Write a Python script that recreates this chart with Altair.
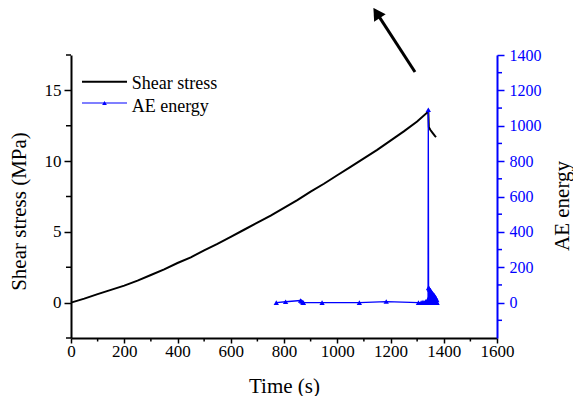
import altair as alt
import pandas as pd

# ---- data ----
time_stress = [0, 50, 100, 150, 200, 250, 300, 350, 400, 450, 500, 550, 600, 650, 700,
               750, 800, 850, 900, 950, 1000, 1050, 1100, 1150, 1200, 1250, 1300, 1342,
               1344, 1350, 1358, 1366, 1371]
shear_stress = [0.0, 0.28, 0.6, 0.9, 1.2, 1.55, 1.95, 2.35, 2.8, 3.2, 3.7, 4.15, 4.65, 5.15, 5.65,
                6.15, 6.7, 7.25, 7.85, 8.4, 9.0, 9.6, 10.2, 10.8, 11.45, 12.1, 12.8, 13.5,
                12.4, 12.2, 12.0, 11.8, 11.7]

time_ae = [771, 806, 862, 866, 870, 873, 943, 1083, 1184, 1305, 1315, 1322, 1328, 1333, 1338,
           1341, 1342, 1343, 1344, 1345, 1346, 1347, 1348, 1350, 1351, 1353, 1354, 1356, 1357,
           1359, 1360, 1362, 1363, 1365, 1366, 1368, 1369, 1371, 1372, 1374, 1375]
ae_energy = [0, 5, 12, 8, 3, 0, 0, 0, 6, 0, 0, 3, 0, 8, 0,
             20, 1090, 85, 10, 80, 5, 75, 15, 70, 0, 60, 20, 55, 5,
             50, 10, 45, 0, 40, 15, 30, 0, 25, 5, 15, 0]

series_names = ["Shear stress", "AE energy"]

x_ticks = [0, 200, 400, 600, 800, 1000, 1200, 1400, 1600]
x_minor = [100, 300, 500, 700, 900, 1100, 1300, 1500]
left_ticks = [0, 5, 10, 15]
left_minor = [-2.5, 2.5, 7.5, 12.5, 17.5]
right_ticks = [0, 200, 400, 600, 800, 1000, 1200, 1400]
right_minor = [-100, 100, 300, 500, 700, 900, 1100, 1300]

# annotation arrow (time, AE-energy units)
arrow_tail = [1292, 1304]
arrow_head = [1148, 1638]

X_DOMAIN = [0, 1600]
L_DOMAIN = [-2.5, 17.5]
R_DOMAIN = [-200, 1400]

FONT = "Liberation Serif"
BLUE = "#0000ff"
W, H = 426, 283

xs = alt.Scale(domain=X_DOMAIN, nice=False, zero=False)
ls = alt.Scale(domain=L_DOMAIN, nice=False, zero=False)
rs = alt.Scale(domain=R_DOMAIN, nice=False, zero=False)

stress_df = pd.DataFrame({"t": time_stress, "s": shear_stress})
ae_df = pd.DataFrame({"t": time_ae, "e": ae_energy})

x_axis = alt.Axis(values=x_ticks, format="d", title="Time (s)", labelFontSize=17, labelFont=FONT,
                  tickSize=5, labelPadding=0, domainWidth=2, tickWidth=1.5,
                  domainColor="black", tickColor="black", labelColor="black",
                  titleFont=FONT, titleFontSize=21, titleFontWeight="normal",
                  titleX=W / 2, titleY=54, titleBaseline="alphabetic", titleAlign="center",
                  grid=False, labelFlush=False, labelOverlap=False, orient="bottom")

left_axis = alt.Axis(values=left_ticks, format="d", orient="left", title="Shear stress (MPa)",
                     labelFontSize=17, labelFont=FONT, tickSize=7, labelPadding=3,
                     domainWidth=2, tickWidth=1.5, domainColor="black", tickColor="black",
                     labelColor="black", titleFont=FONT, titleFontSize=21,
                     titleFontWeight="normal", titleAngle=270, titleX=-46, titleY=156,
                     titleBaseline="alphabetic", titleAlign="center", grid=False,
                     labelFlush=False, labelOverlap=False)

right_axis = alt.Axis(values=right_ticks, format="d", orient="right", title="AE energy",
                      labelFontSize=16, labelFont=FONT, tickSize=7, labelPadding=5,
                      domainWidth=2, tickWidth=1.5, domainColor=BLUE, tickColor=BLUE,
                      labelColor=BLUE, titleColor="black", titleFont=FONT, titleFontSize=21,
                      titleFontWeight="normal", titleAngle=270, titleX=71, titleY=150.5,
                      titleBaseline="alphabetic", titleAlign="center", grid=False,
                      labelFlush=False, labelOverlap=False)

shear = alt.Chart(stress_df).mark_line(color="black", strokeWidth=2).encode(
    x=alt.X("t:Q", scale=xs, axis=x_axis),
    y=alt.Y("s:Q", scale=ls, axis=left_axis),
)

xminor = alt.Chart(pd.DataFrame({"v": x_minor})).mark_rule(color="black", strokeWidth=1.5).encode(
    x=alt.X("v:Q", scale=xs),
    y=alt.value(H), y2=alt.value(H + 3.5),
)
lminor = alt.Chart(pd.DataFrame({"v": left_minor})).mark_rule(color="black", strokeWidth=1.5).encode(
    y=alt.Y("v:Q", scale=ls),
    x=alt.value(0), x2=alt.value(-5),
)

leg_df0 = pd.DataFrame({"name": [series_names[0]]})
leg_df1 = pd.DataFrame({"name": [series_names[1]]})
leg_line0 = alt.Chart(leg_df0).mark_rule(color="black", strokeWidth=2).encode(
    x=alt.value(11), x2=alt.value(56), y=alt.value(26.7))
leg_text0 = alt.Chart(leg_df0).mark_text(align="left", baseline="alphabetic", font=FONT,
                                         fontSize=18, color="black").encode(
    text="name:N", x=alt.value(60.7), y=alt.value(34))
leg_line1 = alt.Chart(leg_df1).mark_rule(color=BLUE, strokeWidth=1.2).encode(
    x=alt.value(11), x2=alt.value(56), y=alt.value(48))
leg_pt1 = alt.Chart(leg_df1).mark_point(shape="triangle-up", filled=True, size=22,
                                        color=BLUE, opacity=1).encode(
    x=alt.value(33.5), y=alt.value(48))
leg_text1 = alt.Chart(leg_df1).mark_text(align="left", baseline="alphabetic", font=FONT,
                                         fontSize=18, color="black").encode(
    text="name:N", x=alt.value(60.7), y=alt.value(56.5))

left_group = alt.layer(shear, xminor, lminor, leg_line0, leg_text0, leg_line1, leg_pt1, leg_text1)

ae_line = alt.Chart(ae_df).mark_line(color=BLUE, strokeWidth=1.3).encode(
    x=alt.X("t:Q", scale=xs),
    y=alt.Y("e:Q", scale=rs, axis=right_axis),
)
ae_pts = alt.Chart(ae_df).mark_point(shape="triangle-up", filled=True, size=28,
                                     color=BLUE, opacity=1).encode(
    x=alt.X("t:Q", scale=xs),
    y=alt.Y("e:Q", scale=rs),
)
rminor = alt.Chart(pd.DataFrame({"v": right_minor})).mark_rule(color=BLUE, strokeWidth=1.5).encode(
    y=alt.Y("v:Q", scale=rs),
    x=alt.value(W), x2=alt.value(W + 5),
)
arrow_df = pd.DataFrame({"x1": [arrow_tail[0]], "y1": [arrow_tail[1]],
                         "x2": [arrow_head[0]], "y2": [arrow_head[1]]})
arrow_shaft = alt.Chart(arrow_df).mark_rule(color="black", strokeWidth=3).encode(
    x=alt.X("x1:Q", scale=xs), y=alt.Y("y1:Q", scale=rs),
    x2="x2:Q", y2="y2:Q",
)
arrow_tip = alt.Chart(arrow_df).mark_point(shape="triangle-up", filled=True, size=190,
                                           color="black", opacity=1, angle=327).encode(
    x=alt.X("x2:Q", scale=xs), y=alt.Y("y2:Q", scale=rs),
)

right_group = alt.layer(ae_line, ae_pts, rminor, arrow_shaft, arrow_tip)

chart = alt.layer(left_group, right_group).resolve_scale(y="independent").properties(
    width=W, height=H,
    autosize=alt.AutoSizeParams(type="none"),
    padding={"left": 63, "top": 47, "right": 76, "bottom": 58},
    background="white",
).configure_view(stroke=None)

chart.save("out.html", embed_options={"renderer": "svg", "actions": False})
